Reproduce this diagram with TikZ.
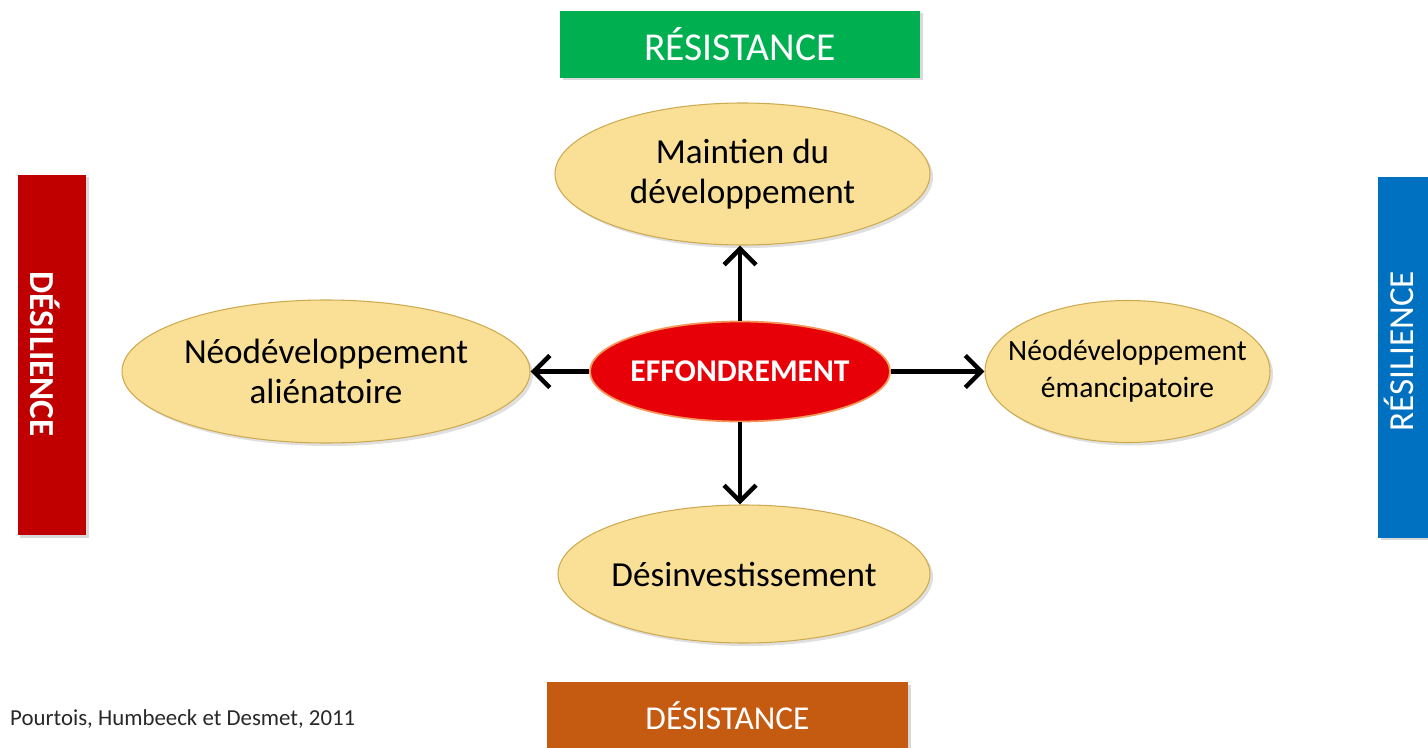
\documentclass[tikz,border=0pt]{standalone}
\usepackage{fontspec}
\setmainfont{Carlito}
\usepackage{xcolor}
\usetikzlibrary{shapes, arrows.meta, shadows}

\definecolor{vertres}{RGB}{0,176,80}
\definecolor{rougedes}{RGB}{192,0,0}
\definecolor{bleures}{RGB}{0,112,192}
\definecolor{orangedes}{RGB}{197,90,17}
\definecolor{jaunebulle}{RGB}{250,224,150}
\definecolor{bordbulle}{RGB}{205,170,80}
\definecolor{rougecentre}{RGB}{232,0,8}

\begin{document}
\begin{tikzpicture}[
		bandeau/.style={rectangle, inner sep=0pt, text=white,
			drop shadow={shadow xshift=0.5mm, shadow yshift=-0.5mm, opacity=0.3}},
		bulle/.style={ellipse, inner xsep=-0.5cm, inner ysep=0pt, fill=jaunebulle, draw=bordbulle, line width=0.6pt,
			align=center, font=\fontsize{20}{23}\selectfont,
			drop shadow={shadow xshift=0.6mm, shadow yshift=-0.6mm, opacity=0.25}},
		fleche/.style={line width=2.6pt, -{Straight Barb[length=3.2mm, width=6.4mm]}}
	]
			\useasboundingbox (0,0) rectangle (28.56,-14.96);
			
			% bandeaux
			\node[bandeau, fill=vertres, minimum width=7.2cm, minimum height=1.34cm, font=\fontsize{22.5}{26}\selectfont] (resistance) at (14.8,-0.89) {RÉSISTANCE};
			\node[bandeau, fill=orangedes, minimum width=7.22cm, minimum height=1.34cm, font=\fontsize{19}{22}\selectfont] (desistance) at (14.55,-14.31) {DÉSISTANCE};
			\node[bandeau, fill=rougedes, minimum width=1.36cm, minimum height=7.2cm] (desilience) at (1.04,-7.1) {};
			\node[bandeau, fill=bleures, minimum width=1.36cm, minimum height=7.2cm] (resilience) at (28.24,-7.15) {};
			\node[text=white, rotate=-90, font=\fontsize{20}{24}\selectfont\bfseries] (desilienceTxt) at (0.9,-7.08) {DÉSILIENCE};
			\node[text=white, rotate=90, font=\fontsize{20}{24}\selectfont] (resilienceTxt) at (27.98,-7.02) {RÉSILIENCE};
			
			% bulles
			\node[bulle, minimum width=7.5cm, minimum height=2.84cm] (maintien) at (14.85,-3.48) {Maintien du\\développement};
			\node[bulle, minimum width=8.16cm, minimum height=2.86cm] (alienatoire) at (6.52,-7.43) {Néodéveloppement\\aliénatoire};
			\node[bulle, minimum width=5.7cm, minimum height=2.84cm, font=\fontsize{16.8}{21}\selectfont] (emancipatoire) at (22.55,-7.43) {Néodéveloppement\\émancipatoire};
			\node[bulle, minimum width=7.44cm, minimum height=2.76cm] (desinvest) at (14.88,-11.48) {Désinvestissement};
			
			\node[ellipse, inner xsep=-0.5cm, inner ysep=0pt, fill=rougecentre, draw={rgb,255:red,244;green,150;blue,90}, line width=1pt,
				minimum width=6cm, minimum height=2cm, text=white, font=\fontsize{18}{21}\selectfont\bfseries] (effondrement) at (14.8,-7.43) {EFFONDREMENT};
			
			% fleches
			\draw[fleche] (effondrement.north) -- (effondrement.north |- maintien.south);
			\draw[fleche] (effondrement.west) -- (alienatoire.east);
			\draw[fleche] (effondrement.east) -- (emancipatoire.west);
			\draw[fleche] (effondrement.south) -- (effondrement.south |- desinvest.north);
			
			\node[anchor=west, font=\fontsize{13}{15}\selectfont, text={rgb,255:red,40;green,40;blue,40}] (source) at (0.08,-14.38) {Pourtois, Humbeeck et Desmet, 2011};
		\end{tikzpicture}
\end{document}
